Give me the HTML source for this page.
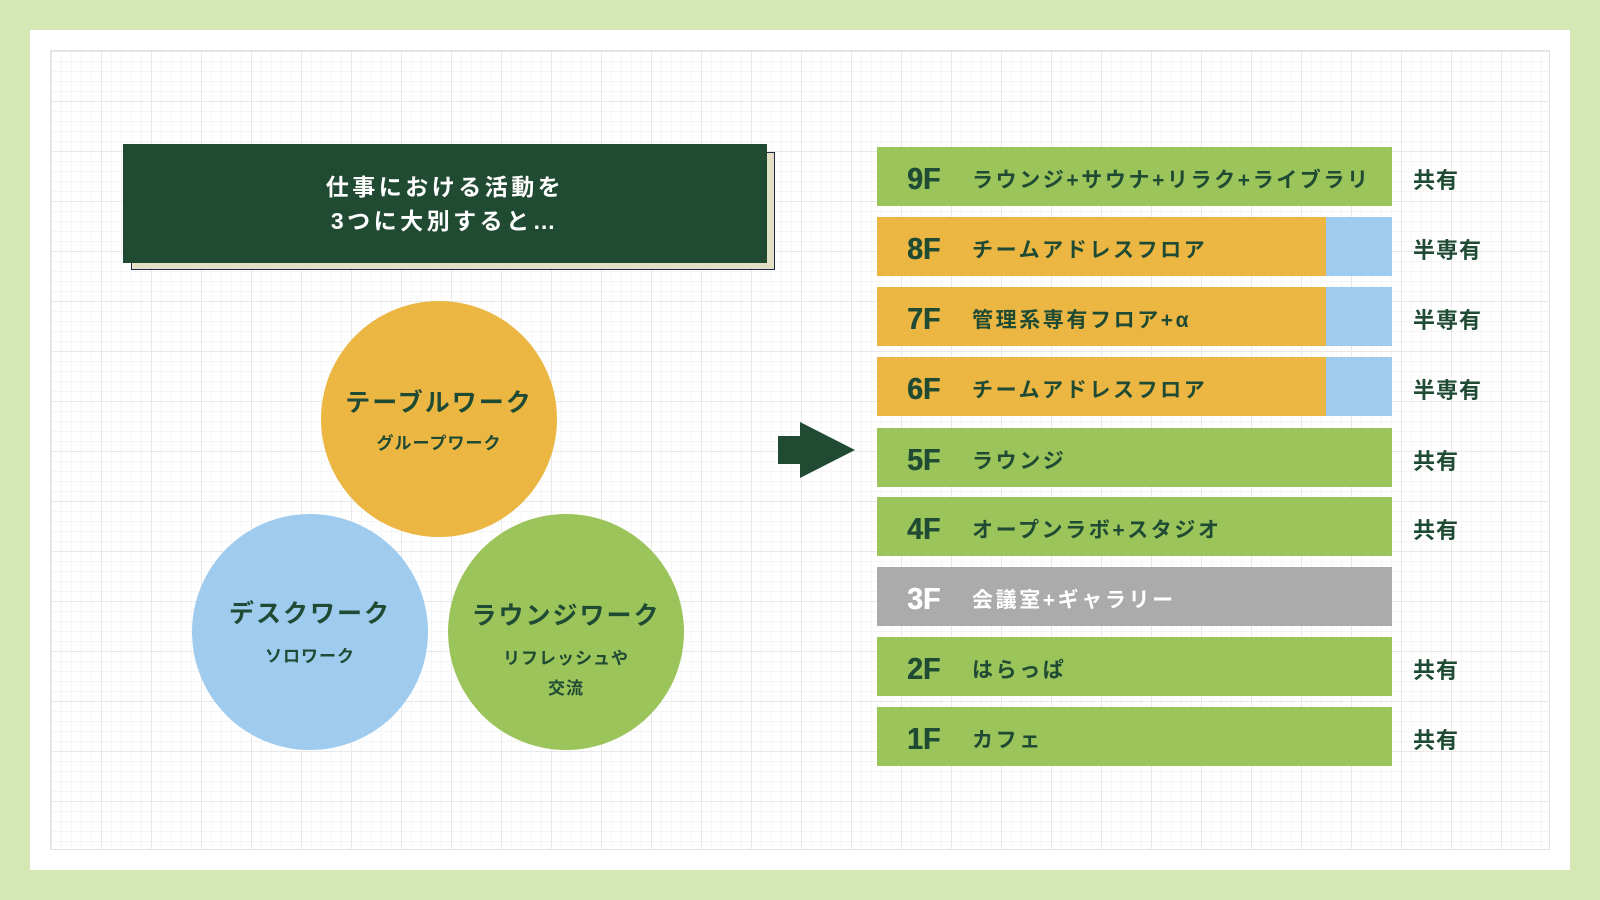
<!DOCTYPE html>
<html><head><meta charset="utf-8"><style>
body{margin:0;width:1600px;height:900px;background:#d4e7b5;position:relative;overflow:hidden;font-family:"Liberation Sans","Noto Sans CJK JP",sans-serif;}
.white{position:absolute;left:30px;top:30px;width:1540px;height:840px;background:#fff;}
.grid{position:absolute;left:50px;top:50px;width:1500px;height:800px;border:1px solid #e2e2e2;box-sizing:border-box;
background-image:linear-gradient(#e8e8e8 1px,transparent 1px),linear-gradient(90deg,#e8e8e8 1px,transparent 1px),linear-gradient(#f5f5f5 1px,transparent 1px),linear-gradient(90deg,#f5f5f5 1px,transparent 1px);
background-size:50px 50px,50px 50px,10px 10px,10px 10px;}
.abs{position:absolute;}
.c{position:absolute;border-radius:50%;width:236px;height:236px;color:#1f4a33;text-align:center;font-weight:bold;}
.c .t{position:absolute;left:0;right:0;font-size:25px;letter-spacing:2px}
.c .s{position:absolute;left:0;right:0;font-size:17px;line-height:30px;letter-spacing:1px}
.bar{position:absolute;left:877px;width:515px;height:59px;color:#1f4a33;font-weight:bold;}
.bar .f{position:absolute;left:30px;top:14px;font-size:31px;font-weight:900;transform:scaleX(0.92);transform-origin:left;text-shadow:0.5px 0 0 currentColor}
.bar .n{position:absolute;left:95px;top:17px;font-size:21px;letter-spacing:2.6px;white-space:nowrap}
.bar .b{position:absolute;right:0;top:0;width:66px;height:59px;background:#9ecbee}
.r{position:absolute;left:1413px;font-size:22px;font-weight:bold;color:#1f4a33;letter-spacing:1px}
.g{background:#9bc45a}.o{background:#ecb643}.gr{background:#ababab;color:#fff!important}
</style></head><body>
<div class="white"></div><div class="grid"></div>
<div class="abs" style="left:131px;top:152px;width:644px;height:118px;background:#e4dfc4;border:1px solid #1f2a4a;box-sizing:border-box"></div>
<div class="abs" style="left:123px;top:144px;width:644px;height:119px;background:#214a33;color:#fff;font-weight:bold;font-size:23px;text-align:center;line-height:34px;letter-spacing:3.5px;box-sizing:border-box;padding-top:26px">仕事における活動を<br>3つに大別すると…</div>
<div class="c" style="left:321px;top:301px;background:#ecb643"><div class="t" style="top:82px">テーブルワーク</div><div class="s" style="top:128px">グループワーク</div></div>
<div class="c" style="left:192px;top:514px;background:#9ecbee"><div class="t" style="top:80px">デスクワーク</div><div class="s" style="top:128px">ソロワーク</div></div>
<div class="c" style="left:448px;top:514px;background:#9bc45a"><div class="t" style="top:82px">ラウンジワーク</div><div class="s" style="top:130px">リフレッシュや<br>交流</div></div>
<svg class="abs" style="left:0;top:0" width="1600" height="900"><polygon points="778,436 800,436 800,422 855,450 800,478 800,464 778,464" fill="#214a33"/></svg>
<div class="bar g" style="top:147px"><span class="f">9F</span><span class="n">ラウンジ+サウナ+リラク+ライブラリ</span></div><div class="r" style="top:163px">共有</div>
<div class="bar o" style="top:217px"><span class="f">8F</span><span class="n">チームアドレスフロア</span><div class="b"></div></div><div class="r" style="top:233px">半専有</div>
<div class="bar o" style="top:287px"><span class="f">7F</span><span class="n">管理系専有フロア+α</span><div class="b"></div></div><div class="r" style="top:303px">半専有</div>
<div class="bar o" style="top:357px"><span class="f">6F</span><span class="n">チームアドレスフロア</span><div class="b"></div></div><div class="r" style="top:373px">半専有</div>
<div class="bar g" style="top:428px"><span class="f">5F</span><span class="n">ラウンジ</span></div><div class="r" style="top:444px">共有</div>
<div class="bar g" style="top:497px"><span class="f">4F</span><span class="n">オープンラボ+スタジオ</span></div><div class="r" style="top:513px">共有</div>
<div class="bar gr" style="top:567px"><span class="f">3F</span><span class="n">会議室+ギャラリー</span></div>
<div class="bar g" style="top:637px"><span class="f">2F</span><span class="n">はらっぱ</span></div><div class="r" style="top:653px">共有</div>
<div class="bar g" style="top:707px"><span class="f">1F</span><span class="n">カフェ</span></div><div class="r" style="top:723px">共有</div>
</body></html>
